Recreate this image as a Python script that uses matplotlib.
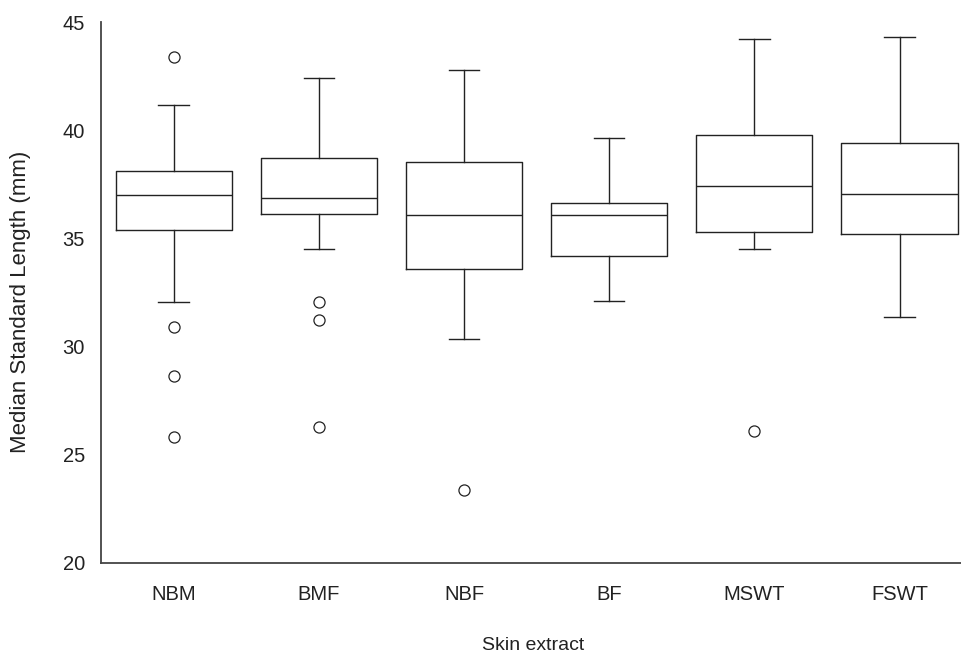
import matplotlib.pyplot as plt

plt.rcParams['font.family'] = ['Liberation Sans', 'DejaVu Sans']

groups = ["NBM", "BMF", "NBF", "BF", "MSWT", "FSWT"]
whislo = [32.05, 34.49, 30.35, 32.12, 34.49, 31.39]
q1 = [35.39, 36.11, 33.60, 34.17, 35.30, 35.21]
med = [36.99, 36.86, 36.10, 36.08, 37.44, 37.07]
q3 = [38.13, 38.71, 38.55, 36.63, 39.79, 39.42]
whishi = [41.16, 42.43, 42.80, 39.65, 44.23, 44.32]
fliers = [
    [43.37, 30.89, 28.66, 25.81],
    [32.05, 31.22, 26.28],
    [23.38],
    [],
    [26.10],
    [],
]

stats = []
for i in range(len(groups)):
    stats.append({
        "label": groups[i],
        "whislo": whislo[i],
        "q1": q1[i],
        "med": med[i],
        "q3": q3[i],
        "whishi": whishi[i],
        "fliers": fliers[i],
    })

fig = plt.figure(figsize=(9.62, 6.55), dpi=100)
ax = fig.add_axes([101 / 962, 92 / 655, 861 / 962, 541 / 655])

line_col = "#222222"
ax.bxp(stats, positions=range(1, 7), widths=0.8, capwidths=0.21,
       boxprops=dict(color=line_col, linewidth=1.0),
       medianprops=dict(color=line_col, linewidth=1.0),
       whiskerprops=dict(color=line_col, linewidth=1.0),
       capprops=dict(color=line_col, linewidth=1.0),
       flierprops=dict(marker="o", markersize=8, markerfacecolor="none",
                       markeredgecolor=line_col, markeredgewidth=0.9))

ax.set_xlim(0.5, 6.43)
ax.set_ylim(20, 45)
ax.set_yticks([20, 25, 30, 35, 40, 45])

for s in ["top", "right"]:
    ax.spines[s].set_visible(False)
for s in ["left", "bottom"]:
    ax.spines[s].set_color("#444444")
    ax.spines[s].set_linewidth(1.3)

ax.tick_params(axis="y", length=0, pad=11.5, labelsize=14.5, labelcolor="#222222")
ax.tick_params(axis="x", length=0, pad=16, labelsize=14.5, labelcolor="#222222")

fig.text(21 / 962, 1 - 302 / 655, "Median Standard Length (mm)", rotation=90,
         ha="center", va="center", fontsize=16, color="#222222")
fig.text(533 / 962, 1 - 646 / 655, "Skin extract", ha="center", va="center",
         fontsize=14, color="#222222")

fig.savefig("out.png", dpi=100)
